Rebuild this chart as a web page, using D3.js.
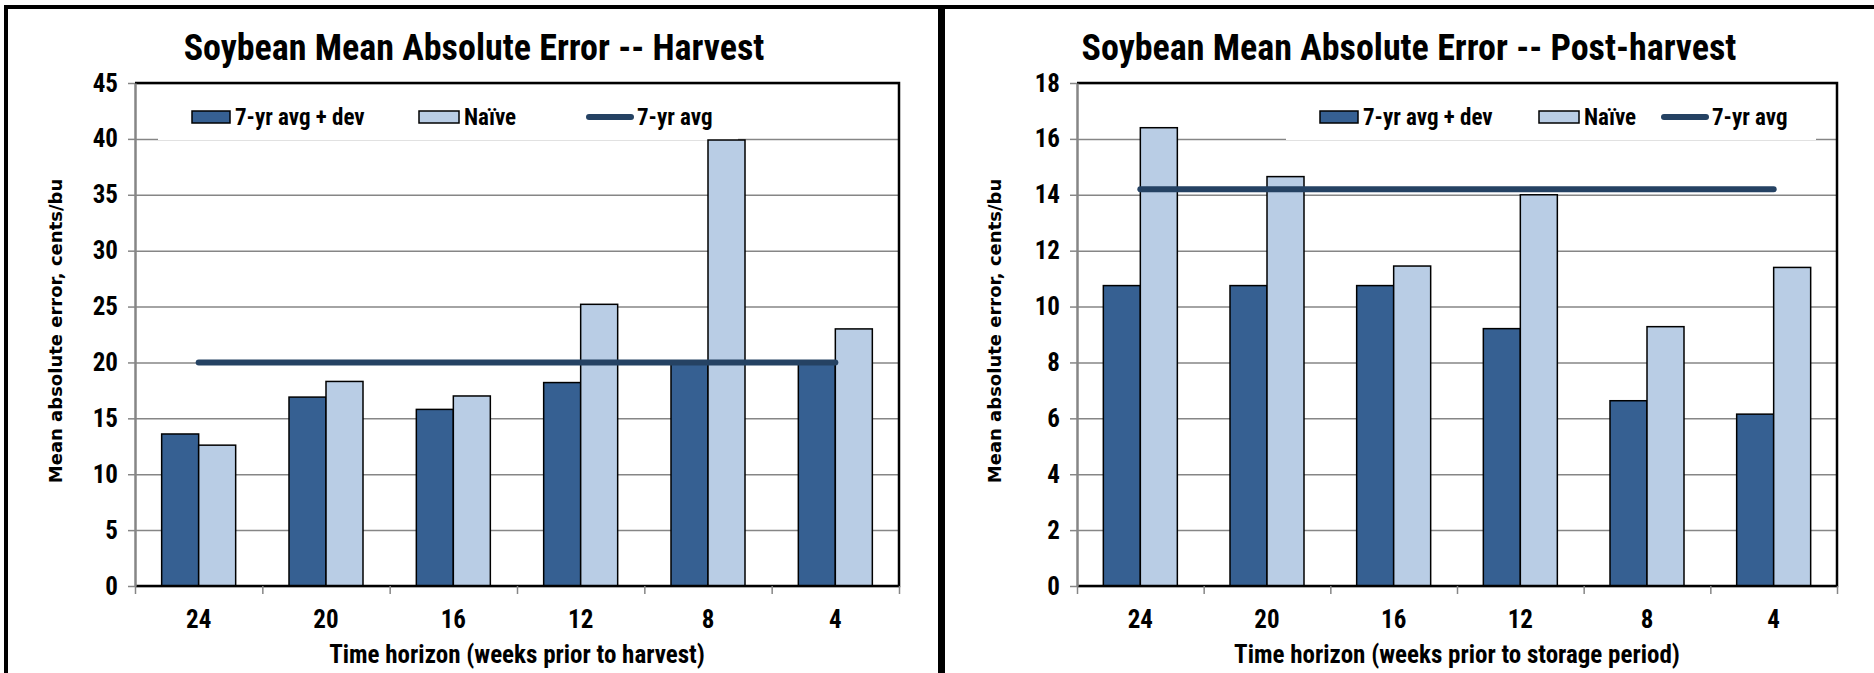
<!DOCTYPE html>
<html>
<head>
<meta charset="utf-8">
<script src="https://cdnjs.cloudflare.com/ajax/libs/d3/7.8.5/d3.min.js"></script>
<style>
  body { margin: 0; background: #fff; }
  svg { display: block; }
</style>
</head>
<body>
<div id="chart"></div>
<script>
// data
const categories = ["24", "20", "16", "12", "8", "4"];
const seriesNames = ["7-yr avg + dev", "Naïve", "7-yr avg"];

const harvestDev = [13.6, 16.9, 15.8, 18.2, 19.9, 20.0];
const harvestNaive = [12.6, 18.3, 17.0, 25.2, 39.9, 23.0];
const harvestAvg = [20, 20, 20, 20, 20, 20];
const harvestTicks = [0, 5, 10, 15, 20, 25, 30, 35, 40, 45];

const postDev = [10.75, 10.75, 10.75, 9.21, 6.63, 6.15];
const postNaive = [16.4, 14.65, 11.45, 14.0, 9.28, 11.4];
const postAvg = [14.2, 14.2, 14.2, 14.2, 14.2, 14.2];
const postTicks = [0, 2, 4, 6, 8, 10, 12, 14, 16, 18];

const W = 1874, H = 673;
const narrow = "'Liberation Sans Narrow', 'Arial Narrow', 'Roboto Condensed', sans-serif";
const wide = "'DejaVu Sans', Verdana, sans-serif";
const darkBlue = "#366092", lightBlue = "#b9cde5", lineBlue = "#254263", grid = "#868686";

const svg = d3.select("#chart").append("svg")
  .attr("width", W)
  .attr("height", H);

// outer frame (top, left and the thick separator)
svg.append("line").attr("x1", 4).attr("x2", W).attr("y1", 7).attr("y2", 7)
  .attr("stroke", "#000").attr("stroke-width", 4);
svg.append("line").attr("x1", 6).attr("x2", 6).attr("y1", 5).attr("y2", H)
  .attr("stroke", "#000").attr("stroke-width", 4);
svg.append("line").attr("x1", 941.5).attr("x2", 941.5).attr("y1", 5).attr("y2", H)
  .attr("stroke", "#000").attr("stroke-width", 7);

function drawPanel(cfg) {
  const top = 83, bottom = 586;
  const width = cfg.right - cfg.left, height = bottom - top;

  const g = svg.append("g").attr("transform", `translate(${cfg.left}, ${top})`);

  const x = d3.scaleBand().domain(categories).range([0, width]);
  const xb = d3.scaleLinear().domain([0, categories.length]).range([0, width]);
  const y = d3.scaleLinear().domain([0, d3.max(cfg.ticks)]).range([height, 0]);

  // gridlines
  g.append("g")
    .call(d3.axisLeft(y).tickValues(cfg.ticks).tickSize(-width).tickFormat(""))
    .call(a => a.select(".domain").remove())
    .call(a => a.selectAll("line").attr("stroke", grid).attr("stroke-width", 1.5));

  // legend, white box hides the gridline under it
  const L = cfg.legend;
  const lg = g.append("g").attr("transform", `translate(${cfg.legendX - cfg.left}, ${117 - top})`);
  lg.append("rect").attr("x", -34).attr("y", -21).attr("width", L.bg).attr("height", 44).attr("fill", "#fff");
  lg.append("rect").attr("x", 0).attr("y", -6).attr("width", 38).attr("height", 12)
    .attr("fill", darkBlue).attr("stroke", "#000").attr("stroke-width", 1.5);
  lg.append("rect").attr("x", L.box2).attr("y", -6).attr("width", 40).attr("height", 12)
    .attr("fill", lightBlue).attr("stroke", "#000").attr("stroke-width", 1.5);
  lg.append("line").attr("x1", L.line + 3).attr("x2", L.line + 45).attr("y1", 0).attr("y2", 0)
    .attr("stroke", lineBlue).attr("stroke-width", 6).attr("stroke-linecap", "round");
  [43, L.box2 + 45, L.line + 51].forEach((tx, i) => {
    lg.append("text").attr("x", tx).attr("y", 0).attr("dy", "0.35em")
      .attr("font-family", narrow).attr("font-weight", "bold").attr("font-size", 23)
      .text(seriesNames[i]);
  });

  // bars
  const bw = 37;
  const groups = g.selectAll(".cat").data(categories).enter().append("g")
    .attr("transform", d => `translate(${x(d) + x.bandwidth() / 2}, 0)`);
  groups.append("rect")
    .attr("x", -bw).attr("width", bw)
    .attr("y", (d, i) => y(cfg.dev[i]))
    .attr("height", (d, i) => height - y(cfg.dev[i]))
    .attr("fill", darkBlue).attr("stroke", "#000").attr("stroke-width", 1.5);
  groups.append("rect")
    .attr("x", 0).attr("width", bw)
    .attr("y", (d, i) => y(cfg.naive[i]))
    .attr("height", (d, i) => height - y(cfg.naive[i]))
    .attr("fill", lightBlue).attr("stroke", "#000").attr("stroke-width", 1.5);

  // 7-yr avg line
  const line = d3.line()
    .x((d, i) => x(categories[i]) + x.bandwidth() / 2)
    .y(d => y(d));
  g.append("path")
    .attr("d", line(cfg.avg))
    .attr("fill", "none").attr("stroke", lineBlue).attr("stroke-width", 6)
    .attr("stroke-linecap", "round");

  // plot border: top / right / bottom black
  g.append("path")
    .attr("d", `M0,0H${width}V${height}H0`)
    .attr("fill", "none").attr("stroke", "#000").attr("stroke-width", 2.5);

  // y axis
  g.append("g")
    .call(d3.axisLeft(y).tickValues(cfg.ticks).tickSize(7).tickSizeOuter(0).tickPadding(10))
    .call(a => a.select(".domain").attr("stroke", grid).attr("stroke-width", 2.5))
    .call(a => a.selectAll("line").attr("stroke", grid).attr("stroke-width", 1.5))
    .call(a => a.selectAll("text").attr("font-family", narrow).attr("font-weight", "bold")
      .attr("font-size", 25).attr("fill", "#000"));

  // x tick marks at category boundaries
  g.append("g")
    .attr("transform", `translate(0, ${height})`)
    .call(d3.axisBottom(xb).tickValues(d3.range(categories.length + 1)).tickSize(8).tickFormat(""))
    .call(a => a.select(".domain").remove())
    .call(a => a.selectAll("line").attr("stroke", grid).attr("stroke-width", 1.5));

  // category labels
  g.append("g")
    .attr("transform", `translate(0, ${height})`)
    .call(d3.axisBottom(x).tickSize(0).tickPadding(24))
    .call(a => a.select(".domain").remove())
    .call(a => a.selectAll("text").attr("font-family", narrow).attr("font-weight", "bold")
      .attr("font-size", 25).attr("fill", "#000"));

  // titles
  svg.append("text")
    .attr("x", cfg.titleX).attr("y", 60)
    .attr("text-anchor", "middle")
    .attr("font-family", narrow).attr("font-weight", "bold").attr("font-size", 36)
    .text(cfg.title);
  svg.append("text")
    .attr("x", cfg.left + width / 2).attr("y", 663)
    .attr("text-anchor", "middle")
    .attr("font-family", narrow).attr("font-weight", "bold").attr("font-size", 25)
    .text(cfg.xTitle);
  svg.append("text")
    .attr("transform", `translate(${cfg.yLabelX}, 331) rotate(-90)`)
    .attr("text-anchor", "middle").attr("dy", "0.35em")
    .attr("font-family", wide).attr("font-weight", "bold").attr("font-size", 18)
    .text("Mean absolute error, cents/bu");
}

drawPanel({
  title: "Soybean Mean Absolute Error -- Harvest",
  xTitle: "Time horizon (weeks prior to harvest)",
  dev: harvestDev, naive: harvestNaive, avg: harvestAvg, ticks: harvestTicks,
  left: 135, right: 899, titleX: 474, yLabelX: 56, legendX: 192,
  legend: { box2: 227, line: 394, bg: 580 }
});

drawPanel({
  title: "Soybean Mean Absolute Error -- Post-harvest",
  xTitle: "Time horizon (weeks prior to storage period)",
  dev: postDev, naive: postNaive, avg: postAvg, ticks: postTicks,
  left: 1077, right: 1837, titleX: 1409, yLabelX: 995, legendX: 1320,
  legend: { box2: 219, line: 341, bg: 530 }
});
</script>
</body>
</html>
